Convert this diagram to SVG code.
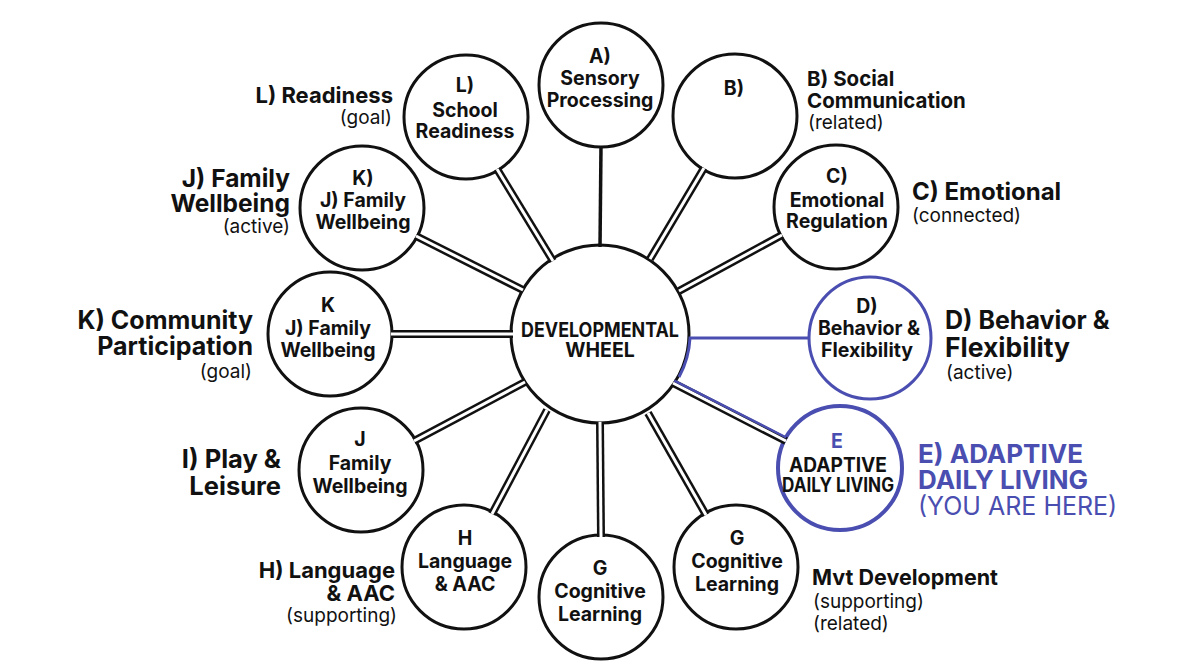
<svg xmlns="http://www.w3.org/2000/svg" width="1200" height="669" viewBox="0 0 1200 669">
<style>
.c{fill:#fff;stroke:#111;stroke-width:3}
.cb{fill:#fff;stroke:#4a4eb0;stroke-width:3}
.cb2{fill:#fff;stroke:#4a4eb0;stroke-width:4}
text{font-family:Inter,'Liberation Sans',sans-serif;fill:#111}
.t{font-weight:700;font-size:19.5px;text-anchor:middle}
.l{font-weight:700}
.s{font-weight:400;font-size:19px}
.e{text-anchor:end}
.bl{fill:#4a4eb0}
.to{stroke:#111;stroke-width:8;fill:none}
.ti{stroke:#fff;stroke-width:3;fill:none}
</style>
<rect width="1200" height="669" fill="#fff"/>
<g id="center">
<circle class="c" cx="600" cy="334" r="89"/>
<text class="t" x="600" y="337" font-size="16" textLength="158" lengthAdjust="spacingAndGlyphs">DEVELOPMENTAL</text>
<text class="t" x="600" y="357" font-size="16">WHEEL</text>
</g>
<g id="nodeA">
<circle class="c" cx="601" cy="85" r="62"/>
<text class="t" x="600" y="63" font-size="20">A)</text>
<text class="t" x="600" y="85">Sensory</text>
<text class="t" x="600" y="107">Processing</text>
</g>
<g id="nodeB">
<circle class="c" cx="735" cy="116" r="62"/>
<text class="t" x="734" y="95" font-size="20">B)</text>
<text class="l" x="807" y="86" font-size="20.5">B) Social</text>
<text class="l" x="807" y="108" font-size="20.5">Communication</text>
<text class="s" x="808" y="129">(related)</text>
</g>
<g id="nodeC">
<circle class="c" cx="836" cy="207" r="62"/>
<text class="t" x="837" y="183" font-size="20">C)</text>
<text class="t" x="837" y="207">Emotional</text>
<text class="t" x="837" y="228">Regulation</text>
<text class="l" x="912" y="200" font-size="24">C) Emotional</text>
<text class="s" x="912" y="222">(connected)</text>
</g>
<g id="nodeD">
<circle class="cb" cx="870" cy="338" r="61"/>
<text class="t" x="867" y="313" font-size="20">D)</text>
<text class="t" x="869" y="335">Behavior &amp;</text>
<text class="t" x="867" y="357">Flexibility</text>
<text class="l" x="945" y="329" font-size="25">D) Behavior &amp;</text>
<text class="l" x="945" y="357" font-size="26.5">Flexibility</text>
<text class="s" x="946" y="379">(active)</text>
</g>
<g id="nodeE">
<circle class="cb2" cx="840" cy="468" r="62"/>
<text class="t bl" x="837" y="448" font-size="21">E</text>
<text class="t" x="838" y="472" font-size="18" textLength="98" lengthAdjust="spacingAndGlyphs">ADAPTIVE</text>
<text class="t" x="838" y="492" font-size="15" textLength="112" lengthAdjust="spacingAndGlyphs">DAILY LIVING</text>
<text class="l bl" x="918" y="463" font-size="26">E) ADAPTIVE</text>
<text class="l bl" x="918" y="489" font-size="26">DAILY LIVING</text>
<text class="bl" x="918" y="515" font-size="25">(YOU ARE HERE)</text>
</g>
<g id="nodeG1">
<circle class="c" cx="736" cy="567" r="62"/>
<text class="t" x="737" y="545" font-size="21">G</text>
<text class="t" x="737" y="568" font-size="21">Cognitive</text>
<text class="t" x="737" y="591" font-size="21">Learning</text>
<text class="l" x="812" y="585" font-size="21.5">Mvt Development</text>
<text class="s" x="813" y="608">(supporting)</text>
<text class="s" x="813" y="630">(related)</text>
</g>
<g id="nodeG2">
<circle class="c" cx="601" cy="597" r="62"/>
<text class="t" x="600" y="575" font-size="21">G</text>
<text class="t" x="600" y="598" font-size="21">Cognitive</text>
<text class="t" x="600" y="621" font-size="21">Learning</text>
</g>
<g id="nodeH">
<circle class="c" cx="464" cy="567" r="62"/>
<text class="t" x="465" y="545" font-size="21">H</text>
<text class="t" x="465" y="568" font-size="21">Language</text>
<text class="t" x="465" y="591" font-size="21">&amp; AAC</text>
<text class="l e" x="395" y="578" font-size="22">H) Language</text>
<text class="l e" x="395" y="601" font-size="22">&amp; AAC</text>
<text class="s e" x="397" y="622">(supporting)</text>
</g>
<g id="nodeJ">
<circle class="c" cx="361" cy="470" r="62"/>
<text class="t" x="360" y="446" font-size="21">J</text>
<text class="t" x="360" y="470" font-size="21">Family</text>
<text class="t" x="360" y="493" font-size="21">Wellbeing</text>
<text class="l e" x="281" y="468" font-size="25.5">I) Play &amp;</text>
<text class="l e" x="281" y="495" font-size="25.5">Leisure</text>
</g>
<g id="nodeK">
<circle class="c" cx="330" cy="334" r="62"/>
<text class="t" x="328" y="312" font-size="20">K</text>
<text class="t" x="328" y="335">J) Family</text>
<text class="t" x="328" y="357">Wellbeing</text>
<text class="l e" x="253" y="329" font-size="25">K) Community</text>
<text class="l e" x="253" y="355" font-size="25">Participation</text>
<text class="s e" x="252" y="378">(goal)</text>
</g>
<g id="nodeKJ">
<circle class="c" cx="362" cy="208" r="62"/>
<text class="t" x="363" y="185" font-size="20">K)</text>
<text class="t" x="363" y="207">J) Family</text>
<text class="t" x="363" y="229">Wellbeing</text>
<text class="l e" x="290" y="187" font-size="24.5">J) Family</text>
<text class="l e" x="290" y="212" font-size="24.5">Wellbeing</text>
<text class="s e" x="290" y="233">(active)</text>
</g>
<g id="nodeL">
<circle class="c" cx="466" cy="117" r="62"/>
<text class="t" x="465" y="92" font-size="20">L)</text>
<text class="t" x="465" y="117">School</text>
<text class="t" x="465" y="138">Readiness</text>
<text class="l e" x="393" y="103" font-size="22">L) Readiness</text>
<text class="s e" x="392" y="124">(goal)</text>
</g>
<g id="connectors">
<path d="M601,146 L600,247" stroke="#111" stroke-width="3.5" fill="none"/>
<g class="tubes">
<path class="to" d="M704,168 L650,259"/>
<path class="to" d="M782,235 L679,291"/>
<path class="to" d="M786,441 L673,383"/>
<path class="to" d="M706,515 L648,413"/>
<path class="to" d="M601,537 L600,422"/>
<path class="to" d="M492,514 L547,410"/>
<path class="to" d="M414,441 L525,382"/>
<path class="to" d="M391,334 L513,334"/>
<path class="to" d="M416,236 L523,290"/>
<path class="to" d="M497,169 L553,261"/>
<path class="ti" d="M704,168 L650,259"/>
<path class="ti" d="M782,235 L679,291"/>
<path class="ti" d="M786,441 L673,383"/>
<path class="ti" d="M706,515 L648,413"/>
<path class="ti" d="M601,537 L600,422"/>
<path class="ti" d="M492,514 L547,410"/>
<path class="ti" d="M414,441 L525,382"/>
<path class="ti" d="M391,334 L513,334"/>
<path class="ti" d="M416,236 L523,290"/>
<path class="ti" d="M497,169 L553,261"/>
</g>
<path d="M674.2,380.6 L786.2,437.5" stroke="#4a4eb0" stroke-width="2.5" fill="none"/>
<path d="M809,338 H690 A89,89 0 0 1 679,377" stroke="#4a4eb0" stroke-width="3" fill="none"/>
</g>
</svg>
